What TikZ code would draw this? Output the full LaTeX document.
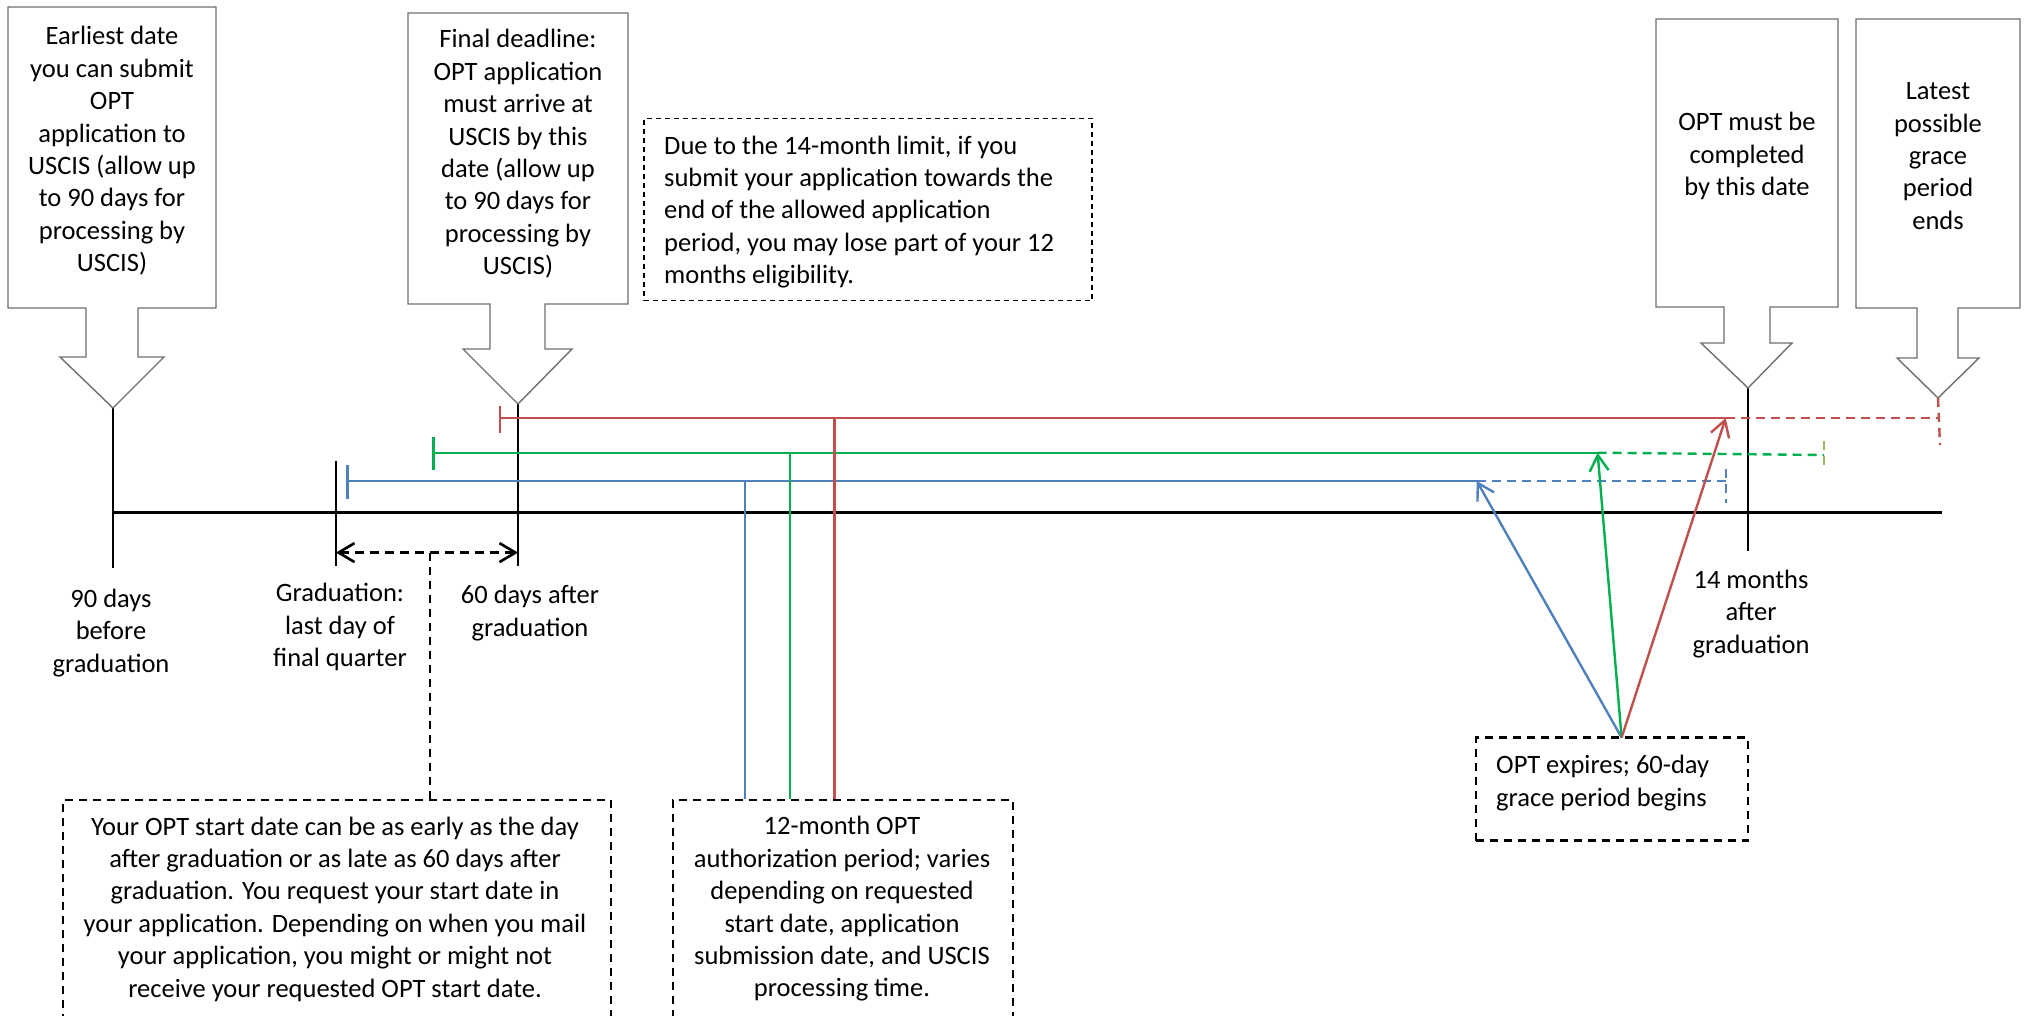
\documentclass[tikz,border=0pt]{standalone}
\usepackage{fontspec}
\setmainfont{Carlito}
\usetikzlibrary{arrows.meta}
\definecolor{oblue}{HTML}{4F81BD}
\definecolor{ogreen}{HTML}{00B050}
\definecolor{ored}{HTML}{C0504D}
\definecolor{olime}{HTML}{9BBB59}
\definecolor{ogray}{HTML}{6F6F6F}
\begin{document}
\begin{tikzpicture}[x=1pt,y=-1pt,
  txt/.style={font=\fontsize{26.5}{32.4}\selectfont, align=center, inner sep=0pt},
  txtl/.style={font=\fontsize{26.5}{32.4}\selectfont, align=left, inner sep=0pt, anchor=west},
  callout/.style={draw=ogray, line width=1.4pt, fill=white},
  axis/.style={line width=2.5pt, black},
  bigdash/.style={draw, line width=2.3pt, dash pattern=on 8pt off 6pt, inner sep=0pt},
  finedash/.style={draw, line width=1.3pt, dash pattern=on 5pt off 4pt, inner sep=0pt},
  period/.style={line width=2.4pt},
  ext/.style={line width=2.4pt, dash pattern=on 9pt off 6pt},
  barb/.style={-{Straight Barb[length=16pt,width=19pt,line width=2.4pt]}},
  dbarb/.style={{Straight Barb[length=16pt,width=19pt,line width=2.6pt]}-{Straight Barb[length=16pt,width=19pt,line width=2.6pt]}},
]
\useasboundingbox (0,0) rectangle (2024,1016);
\clip (0,0) rectangle (2024,1016);

% ---- timeline and ticks
\coordinate (tlstart) at (113,512.5);
\coordinate (tlend) at (1942,512.5);
\draw[axis] (tlstart) -- (tlend);

\coordinate (tipA) at (113,408);
\coordinate (tipB) at (518,404);
\coordinate (tipC) at (1748,388);
\coordinate (tipD) at (1938,398);
\coordinate (gradtop) at (336,461);
\coordinate (gradbot) at (336,566);
\draw[axis] (tipA) -- (113,568);
\draw[axis] (gradtop) -- (gradbot);
\draw[axis] (tipB) -- (518,566);
\draw[axis] (tipC) -- (1748,551);

% ---- callouts
\draw[callout] (8,7) -- (216,7) -- (216,308) -- (138,308) -- (138,357) -- (164,357)
  -- (tipA) -- (60,357) -- (86,357) -- (86,308) -- (8,308) -- cycle;
\draw[callout] (408,13) -- (628,13) -- (628,304) -- (545,304) -- (545,349) -- (572,349)
  -- (tipB) -- (463,349) -- (490,349) -- (490,304) -- (408,304) -- cycle;
\draw[callout] (1656,19) -- (1838,19) -- (1838,307) -- (1770,307) -- (1770,343) -- (1792,343)
  -- (tipC) -- (1701,343) -- (1724,343) -- (1724,307) -- (1656,307) -- cycle;
\draw[callout] (1856,19) -- (2020,19) -- (2020,308) -- (1958,308) -- (1958,358) -- (1979,358)
  -- (tipD) -- (1897,358) -- (1917,358) -- (1917,308) -- (1856,308) -- cycle;

\node[txt] (earliest) at (112,151) {Earliest date\\you can submit\\OPT\\application to\\USCIS (allow up\\to 90 days for\\processing by\\USCIS)};
\node[txt] (final) at (518,154) {Final deadline:\\OPT application\\must arrive at\\USCIS by this\\date (allow up\\to 90 days for\\processing by\\USCIS)};
\node[txt] (complete) at (1747,156) {OPT must be\\completed\\by this date};
\node[txt] (latest) at (1938,156) {Latest\\possible\\grace\\period\\ends};

% ---- note box
\node[finedash, minimum width=448pt, minimum height=182.5pt] (duebox) at (868,209.5) {};
\node[txtl] (duetext) at (664,212) {Due to the 14-month limit, if you\\submit your application towards the\\end of the allowed application\\period, you may lose part of your 12\\months eligibility.};

% ---- tick labels
\node[txt] (lab90) at (111,633) {90 days\\before\\graduation};
\node[txt] (labgrad) at (340,627) {Graduation:\\last day of\\final quarter};
\node[txt] (lab60) at (530,613) {60 days after\\graduation};
\node[txt] (lab14) at (1751,614) {14 months\\after\\graduation};

% ---- start-date window
\coordinate (winL) at (336,552.6);
\coordinate (winR) at (518,552.6);
\coordinate (winM) at (430,552.6);
\draw[dbarb, line width=2.6pt, dash pattern=on 9pt off 6pt] (winL) -- (winR);

\node[bigdash, minimum width=548pt, minimum height=300pt, anchor=north west] (startbox) at (61.6,799) {};
\node[txt] (starttext) at (335,909) {Your OPT start date can be as early as the day\\after graduation or as late as 60 days after\\graduation. You request your start date in\\your application. Depending on when you mail\\your application, you might or might not\\receive your requested OPT start date.};
\draw[line width=2.3pt, dash pattern=on 8pt off 6pt] (winM) -- (winM |- startbox.north);

\node[bigdash, minimum width=340pt, minimum height=300pt, anchor=north west] (authbox) at (672,799) {};
\node[txt] (authtext) at (842,909) {12-month OPT\\authorization period; varies\\depending on requested\\start date, application\\submission date, and USCIS\\processing time.};

% ---- OPT periods
\coordinate (redS) at (500,418);
\coordinate (greenS) at (433.5,452.7);
\coordinate (blueS) at (347.6,481);
\coordinate (redT) at (1725.7,418);
\coordinate (greenT) at (1597.6,452.7);
\coordinate (blueT) at (1476.7,481);
\coordinate (redE) at (1940,418);
\coordinate (greenE) at (1824,455);
\coordinate (blueE) at (1725.7,481);

\draw[period, ored] ([yshift=-15pt]redS) -- ([yshift=12pt]redS);
\draw[period, ogreen] ([yshift=-17pt]greenS) -- ([yshift=16pt]greenS);
\draw[period, oblue] ([yshift=-18pt]blueS) -- ([yshift=16pt]blueS);

\draw[period, ored] (redS) -- (redT);
\draw[period, ogreen] (greenS) -- (greenT);
\draw[period, oblue] (blueS) -- (blueT);

\draw[ext, ored] (redT) -- (redE);
\draw[ext, ored] (tipD) -- (1940,445);
\draw[ext, ogreen] (greenT) -- (greenE);
\draw[line width=2pt, olime, dash pattern=on 9pt off 6pt] (1824,441) -- (1824,471);
\draw[ext, oblue] (blueT) -- (blueE);
\draw[ext, oblue] (1725.7,469) -- (1725.7,503);

% ---- links to authorization box
\coordinate (linkB) at (745,481);
\coordinate (linkG) at (790,452.7);
\coordinate (linkR) at (834.5,418);
\draw[period, oblue] (linkB) -- (linkB |- authbox.north);
\draw[period, ogreen] (linkG) -- (linkG |- authbox.north);
\draw[period, ored] (linkR) -- (linkR |- authbox.north);

% ---- expiry box and arrows
\node[bigdash, minimum width=272pt, minimum height=103pt] (expbox) at (1612,789) {};
\node[txtl] (exptext) at (1496,783) {OPT expires; 60-day\\grace period begins};
\coordinate (expsrc) at (1621.6,737.6);
\draw[period, oblue, barb] (expsrc) -- (blueT);
\draw[period, ogreen, barb] (expsrc) -- (greenT);
\draw[period, ored, barb] (expsrc) -- (redT);
\end{tikzpicture}
\end{document}
